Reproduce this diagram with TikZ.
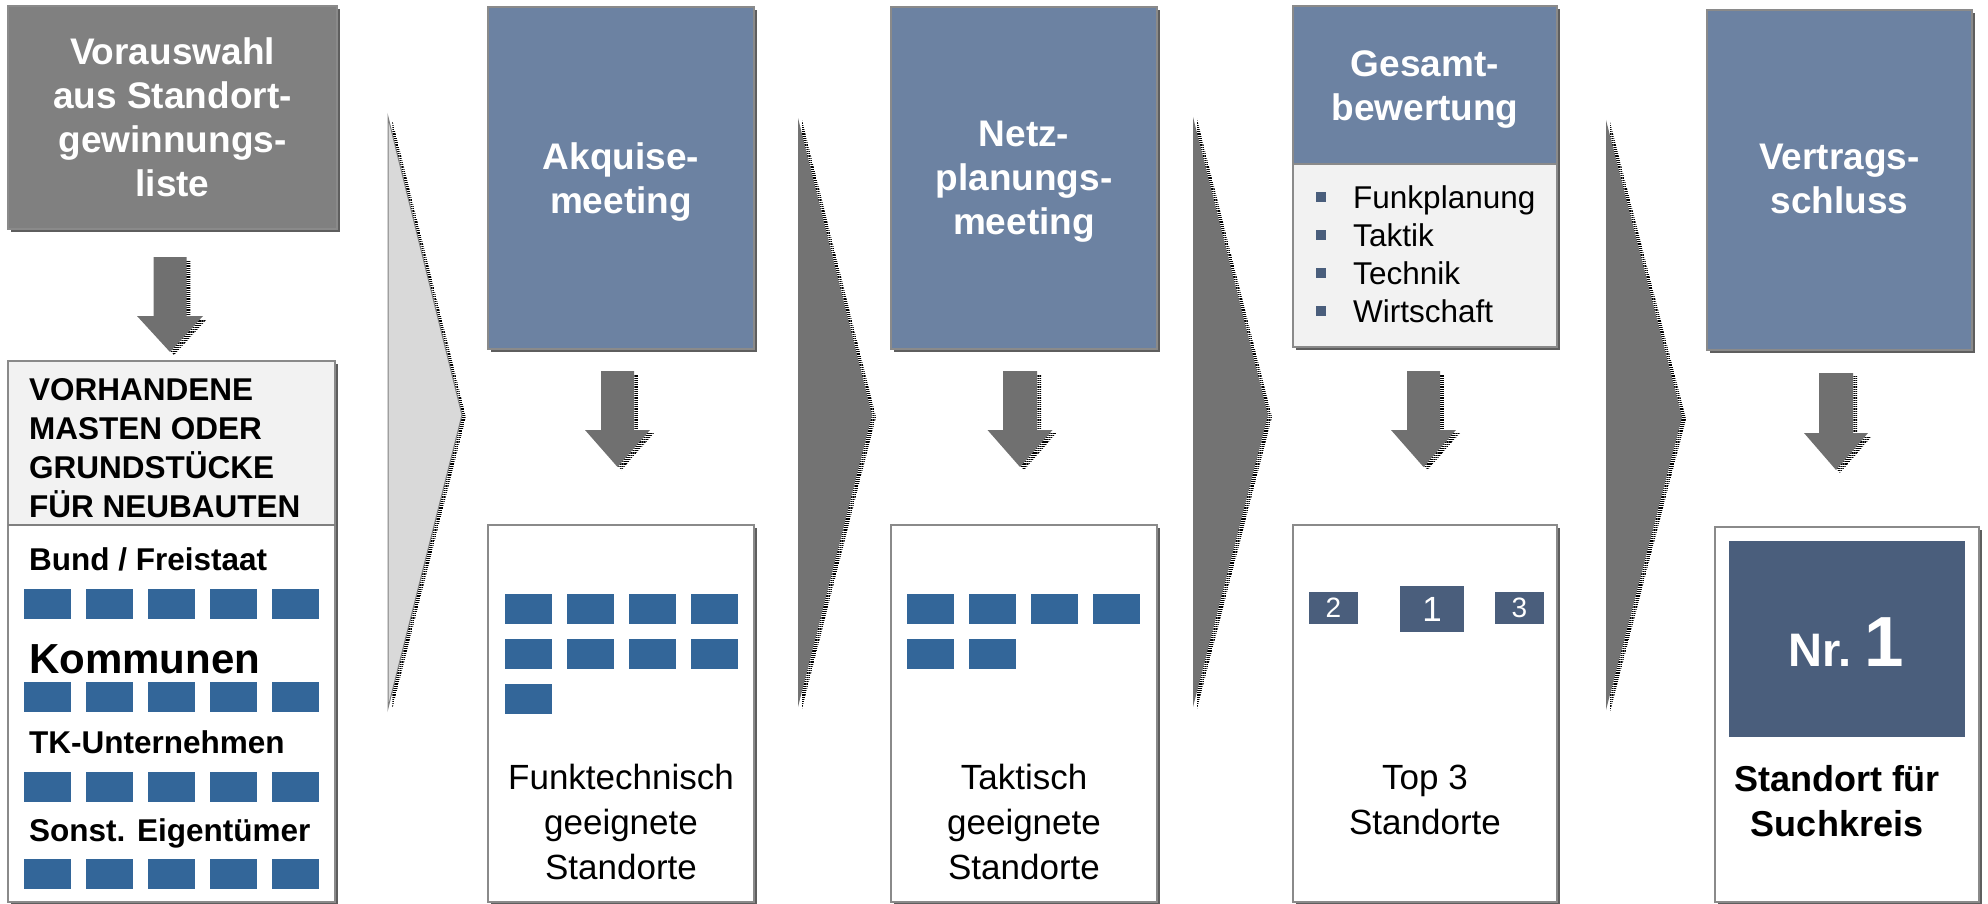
\documentclass[tikz,border=0pt]{standalone}
\usepackage{fontspec}
\setmainfont{Liberation Sans}
\usetikzlibrary{patterns.meta}
\definecolor{hdrblue}{HTML}{6C82A2}
\definecolor{boxgray}{HTML}{808080}
\definecolor{edgegray}{HTML}{8A8A8A}
\definecolor{shadegray}{HTML}{5E5E5E}
\definecolor{sqblue}{HTML}{336699}
\definecolor{slate}{HTML}{4A5E7C}
\definecolor{chevgray}{HTML}{737373}
\definecolor{chevlight}{HTML}{D9D9D9}
\definecolor{panelgray}{HTML}{F2F2F2}
\definecolor{arrgray}{HTML}{707070}

\newcommand\shbox[5]{%
  \fill[shadegray] (#1+3,#2+3) rectangle (#3+3,#4+3);
  \filldraw[fill=#5,draw=edgegray,line width=1.5pt] (#1,#2) rectangle (#3,#4);}

\newcommand\dnarrow[6]{%
  \begin{scope}[shift={(4,3)}]
    \fill[hatch] (#1-#2,#4) -- (#1+#2,#4) -- (#1+#2,#5) -- (#1+#3,#5) -- (#1,#6) -- (#1-#3,#5) -- (#1-#2,#5) -- cycle;
  \end{scope}
  \fill[arrgray] (#1-#2,#4) -- (#1+#2,#4) -- (#1+#2,#5) -- (#1+#3,#5) -- (#1,#6) -- (#1-#3,#5) -- (#1-#2,#5) -- cycle;}

\newcommand\chev[6]{%
  \begin{scope}[shift={(4,2)}]
    \fill[hatch] (#1,#2) -- (#3,#4) -- (#1,#5) -- cycle;
  \end{scope}
  \path[#6] (#1,#2) -- (#3,#4) -- (#1,#5) -- cycle;}

\begin{document}
\begin{tikzpicture}[x=1pt,y=-1pt,
  hatch/.style={pattern={Lines[angle=0,distance=2.2pt,line width=1.1pt]},pattern color=black},
  hdr/.style={text=white,font=\bfseries\fontsize{37}{44}\selectfont,align=center,inner sep=0pt},
  colhead/.style={font=\bfseries\fontsize{31.5}{39}\selectfont,inner sep=0pt,anchor=base west},
  bul/.style={font=\fontsize{31.5}{38}\selectfont,inner sep=0pt,anchor=base west},
  lbl/.style={font=\fontsize{35}{45}\selectfont,align=center,inner sep=0pt},
  numbox/.style={fill=slate,text=white,inner sep=0pt}]
\useasboundingbox (0,0) rectangle (1988,904);
\clip (0,0) rectangle (1988,904);

% chevrons
\chev{388}{117}{462}{415}{708}{fill=chevlight,draw=boxgray,line width=1pt}
\chev{798}{118}{872}{415}{707}{fill=chevgray}
\chev{1193}{117}{1268}{415}{707}{fill=chevgray}
\chev{1606}{120}{1682}{417}{710}{fill=chevgray}

% top boxes
\shbox{8}{6}{337}{229}{boxgray}
\shbox{488}{7}{754}{349}{hdrblue}
\shbox{891}{7}{1157}{349}{hdrblue}
\fill[shadegray] (1296,9) rectangle (1560,350);
\fill[hdrblue] (1293,6) rectangle (1557,164);
\fill[panelgray] (1293,164) rectangle (1557,347);
\draw[edgegray,line width=1.5pt] (1293,6) rectangle (1557,347);
\draw[edgegray,line width=1.5pt] (1293,164) -- (1557,164);
\shbox{1707}{10}{1972}{350}{hdrblue}

% bottom boxes
\fill[shadegray] (11,364) rectangle (338,906);
\fill[white] (8,361) rectangle (335,902);
\fill[panelgray] (8,361) rectangle (335,525);
\draw[edgegray,line width=1.5pt] (8,361) rectangle (335,902);
\draw[boxgray,line width=2pt] (8,525) -- (335,525);
\shbox{488}{525}{754}{902}{white}
\shbox{891}{525}{1157}{902}{white}
\shbox{1293}{525}{1557}{902}{white}
\shbox{1715}{527}{1979}{902}{white}

% down arrows
\dnarrow{170}{16.5}{33}{257}{316}{352}
\dnarrow{617.5}{16.5}{32.5}{371}{430}{467}
\dnarrow{1020}{17}{32.5}{371}{430}{467}
\dnarrow{1423.5}{16.5}{32.5}{371}{430}{467}
\dnarrow{1836}{17}{32}{373}{433}{470}

% header texts
\node[hdr] (h1) at (172.5,117.5) {Vorauswahl\\aus Standort-\\gewinnungs-\\liste};
\node[hdr] (h2) at (621,182) {Akquise-\\meeting};
\node[hdr] (h3) at (1024,181.5) {Netz-\\planungs-\\meeting};
\node[hdr] (h4) at (1425,89.5) {Gesamt-\\bewertung};
\node[hdr] (h5) at (1839.5,179) {Vertrags-\\schluss};

% column 1 content
\node[colhead] (c1a) at (29,400) {VORHANDENE};
\node[colhead] (c1b) at (29,439) {MASTEN ODER};
\node[colhead] (c1c) at (29,478) {GRUNDSTÜCKE};
\node[colhead] (c1d) at (29,517) {FÜR NEUBAUTEN};
\node[colhead] (g1) at (29,570) {Bund / Freistaat};
\node[colhead,font=\bfseries\fontsize{42}{48}\selectfont] (g2) at (29,673) {Kommunen};
\node[colhead] (g3) at (29,753) {TK-Unternehmen};
\node[colhead] (g4) at (29,841) {Sonst. Eigentümer};
\foreach \yy in {589,682,772,859}{
  \foreach \i in {0,...,4}{\fill[sqblue] (24+62*\i,\yy) rectangle ++(47,30);}}

% column 2 content
\foreach \yy in {594,639}{
  \foreach \i in {0,...,3}{\fill[sqblue] (505+62*\i,\yy) rectangle ++(47,30);}}
\fill[sqblue] (505,684) rectangle ++(47,30);
\node[lbl] (l2) at (621,822) {Funktechnisch\\geeignete\\Standorte};

% column 3 content
\foreach \i in {0,...,3}{\fill[sqblue] (907+62*\i,594) rectangle ++(47,30);}
\foreach \i in {0,1}{\fill[sqblue] (907+62*\i,639) rectangle ++(47,30);}
\node[lbl] (l3) at (1024,822) {Taktisch\\geeignete\\Standorte};

% column 4 content
\foreach \yy/\t/\nm in {208/Funkplanung/b1,246/Taktik/b2,284/Technik/b3,322/Wirtschaft/b4}{
  \fill[slate] (1316,\yy-16) rectangle (1326,\yy-6);
  \node[bul] (\nm) at (1353,\yy) {\t};}
\node[numbox,minimum width=49pt,minimum height=32pt,font=\fontsize{28}{28}\selectfont] (r2) at (1333.5,608) {2};
\node[numbox,minimum width=64pt,minimum height=46pt,font=\fontsize{35}{35}\selectfont] (r1) at (1432,609) {1};
\node[numbox,minimum width=49pt,minimum height=32pt,font=\fontsize{28}{28}\selectfont] (r3) at (1519.5,608) {3};
\node[lbl] (l4) at (1425,800) {Top 3\\Standorte};

% column 5 content
\fill[slate] (1729,541) rectangle (1965,737);
\node[anchor=base,text=white,inner sep=0pt,font=\bfseries] (nr) at (1846,666)
  {{\fontsize{47}{47}\selectfont Nr.}\hspace{13pt}{\fontsize{71}{71}\selectfont 1}};
\node[lbl,font=\bfseries\fontsize{36}{45}\selectfont] (l5) at (1837,801) {Standort für\\Suchkreis};
\end{tikzpicture}
\end{document}
